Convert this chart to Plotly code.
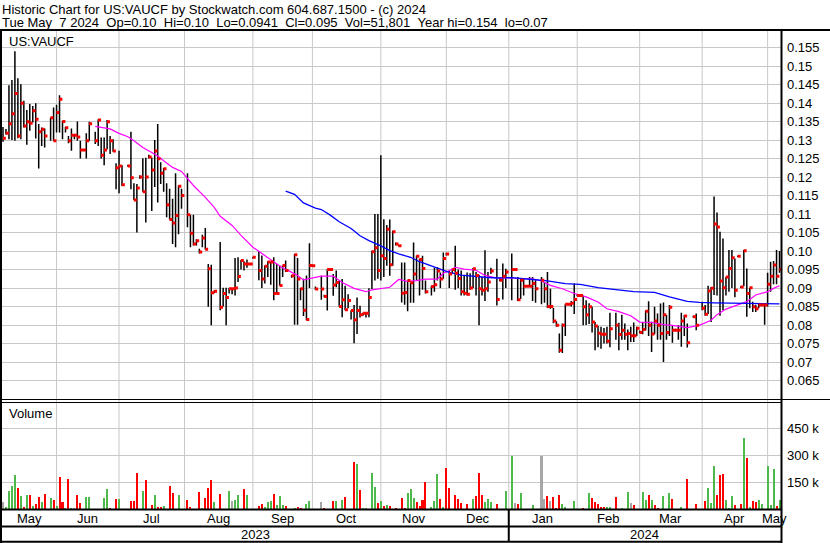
import pandas as pd
import plotly.graph_objects as go

FONT = "Arial, 'Liberation Sans', sans-serif"

# ---------------- data ----------------
# one slot per weekday (holidays / no-trade days are None)
dates = pd.bdate_range("2023-05-08", "2024-05-07")

high = [
    0.1335, 0.133, 0.1448, 0.1462, 0.154, 0.1467, 0.1451, 0.1406, 0.1381, 0.1397,
    0.1392, 0.1399, 0.1343, 0.1334, 0.1331, None, 0.1361, 0.1388, 0.1395, 0.1421,
    0.1352, 0.1336, 0.1311, 0.1331, 0.1316, 0.135, 0.1298, 0.1275, 0.1318, 0.1349,
    None, 0.1322, 0.1356, 0.1307, 0.1307, 0.1354, 0.1311, 0.1302, 0.1237, 0.1271,
    0.1232, None, 0.1233, 0.1322, 0.1183, 0.1181, 0.1205, 0.1251, 0.1252, 0.126,
    0.1253, 0.13, 0.1343, 0.124, 0.1224, 0.1183, 0.1168, 0.1141, 0.121, 0.1177,
    0.1168, None, 0.121, 0.1098, 0.1098, 0.1032, 0.1006, 0.1044, 0.1062, 0.0965,
    0.0963, 0.0893, None, 0.1024, 0.0901, 0.0901, 0.09, 0.09, 0.0981, 0.0983,
    0.0976, 0.0972, 0.0977, 0.0967, 0.0984, None, 0.0999, 0.0988, 0.0961, 0.0972,
    0.097, 0.0983, 0.0965, 0.0961, 0.0961, 0.0974, None, 0.0935, 0.0992, 0.0981,
    0.09, 0.0925, 0.0934, 0.1021, 0.0963, 0.0904, None, 0.0933, 0.0882, 0.0951,
    0.0952, 0.0938, 0.0947, 0.092, 0.0924, 0.0906, 0.0883, 0.0839, 0.0854, 0.0874,
    0.0852, 0.0833, 0.0834, 0.0899, 0.1001, 0.11, 0.11, 0.1259, 0.1086, 0.107,
    0.1085, 0.1055, 0.1023, 0.1016, 0.0969, 0.0969, 0.092, 0.0915, 0.1023, 0.0988,
    0.0979, 0.0987, 0.092, None, 0.0906, 0.0955, 0.0956, 0.0942, 0.0996, 0.0995,
    0.0947, 0.0952, 0.1014, 0.095, 0.0947, 0.0933, 0.0942, 0.094, 0.0954, 0.0943,
    0.0936, 0.093, 0.1002, 0.0943, 0.0955, None, 0.0979, 0.0925, 0.0966, 0.0952,
    None, 0.0993, 0.0952, 0.093, 0.0925, 0.0927, 0.0907, 0.093, 0.093, 0.0921,
    None, 0.093, 0.0916, 0.0943, 0.0898, 0.0846, 0.081, 0.0777, 0.0804, 0.0856,
    0.0858, 0.0865, 0.0912, 0.0883, 0.0883, 0.088, 0.0867, 0.0859, 0.0849, 0.0808,
    0.0797, 0.0795, 0.0792, 0.0795, 0.0833, None, 0.0833, 0.0806, 0.0828, 0.0804,
    0.0788, 0.0795, 0.0807, 0.0795, 0.0785, 0.0808, 0.0839, 0.0864, 0.0809, 0.0849,
    0.0831, 0.0858, 0.0861, 0.0827, 0.0854, 0.0799, 0.079, 0.0799, 0.0833, 0.0827,
    0.0804, None, 0.0825, 0.0831, None, 0.0863, 0.0854, 0.0906, 0.0903, 0.1147,
    0.1104, 0.1052, 0.1034, 0.093, 0.1003, 0.1003, 0.098, 0.0988, 0.0905, 0.1003,
    0.0953, 0.0901, 0.0863, 0.0855, 0.0858, 0.0856, 0.0856, 0.0941, 0.0971, 0.0973,
    0.1003, 0.100,
]

low = [
    0.1295, 0.1315, 0.1302, 0.13, 0.1298, 0.1305, 0.1302, 0.1334, 0.1287, 0.1325,
    0.1347, 0.1304, 0.1223, 0.1284, 0.128, None, 0.1298, 0.1298, 0.132, 0.132,
    0.1302, 0.132, 0.1291, 0.1271, 0.1302, 0.1298, 0.125, 0.127, 0.125, 0.1298,
    None, 0.1289, 0.1284, 0.125, 0.1232, 0.1275, 0.1262, 0.1268, 0.1167, 0.1156,
    0.1176, None, 0.1228, 0.1167, 0.1138, 0.105, 0.1195, 0.116, 0.1077, 0.125,
    0.1108, 0.1173, 0.1131, 0.1181, 0.116, 0.1091, 0.1085, 0.1019, 0.101, 0.1045,
    0.1114, None, 0.1064, 0.101, 0.1015, 0.1015, 0.0993, 0.101, 0.1004, 0.0849,
    0.0799, 0.0886, None, 0.084, 0.085, 0.0799, 0.0885, 0.0883, 0.088, 0.0916,
    0.095, 0.0947, 0.0955, 0.0963, 0.098, None, 0.0921, 0.09, 0.0912, 0.093,
    0.0909, 0.0867, 0.0885, 0.0907, 0.093, 0.0943, None, 0.0928, 0.0801, 0.0801,
    0.0867, 0.0824, 0.0813, 0.09, 0.0958, 0.0895, None, 0.0868, 0.0875, 0.0839,
    0.0948, 0.0879, 0.0902, 0.085, 0.0821, 0.084, 0.0845, 0.0815, 0.0751, 0.0776,
    0.082, 0.0825, 0.082, 0.0821, 0.0897, 0.092, 0.0925, 0.092, 0.093, 0.096,
    0.0933, 0.096, 0.1015, 0.1012, 0.0861, 0.0855, 0.0837, 0.086, 0.086, 0.092,
    0.088, 0.0895, 0.0885, None, 0.088, 0.089, 0.092, 0.09, 0.0925, 0.0988,
    0.09, 0.094, 0.0895, 0.09, 0.088, 0.088, 0.088, 0.0895, 0.09, 0.088,
    0.0799, 0.088, 0.0865, 0.089, 0.0938, None, 0.0853, 0.0918, 0.0869, 0.09,
    None, 0.0867, 0.0948, 0.0865, 0.087, 0.088, 0.0903, 0.0903, 0.0865, 0.086,
    None, 0.0856, 0.086, 0.0846, 0.0844, 0.0805, 0.0795, 0.0725, 0.0724, 0.077,
    0.0854, 0.085, 0.083, 0.0878, 0.0878, 0.0799, 0.08, 0.0803, 0.078, 0.0732,
    0.074, 0.0736, 0.075, 0.075, 0.074, None, 0.076, 0.0732, 0.076, 0.076,
    0.0732, 0.0754, 0.0754, 0.077, 0.0778, 0.0775, 0.0785, 0.077, 0.0727, 0.0775,
    0.076, 0.076, 0.070, 0.076, 0.077, 0.0752, 0.0783, 0.076, 0.0741, 0.077,
    0.0739, None, 0.082, 0.0786, None, 0.084, 0.0825, 0.083, 0.0808, 0.0881,
    0.088, 0.0825, 0.084, 0.088, 0.089, 0.09, 0.0875, 0.0984, 0.09, 0.0905,
    0.0822, 0.0845, 0.0835, 0.0835, 0.0845, 0.0852, 0.0801, 0.085, 0.089, 0.091,
    0.091, 0.0941,
]

close = [
    0.1305, 0.1318, 0.1344, 0.1371, 0.1426, 0.1311, 0.1399, 0.1338, 0.1349, 0.1345,
    0.1379, 0.1356, 0.1322, 0.1329, 0.1311, None, 0.136, 0.1298, 0.1374, 0.141,
    0.135, 0.1333, 0.1298, 0.1313, 0.1313, 0.1308, 0.1273, 0.1273, 0.1298, 0.1344,
    None, 0.1298, 0.1354, 0.1259, 0.1273, 0.1349, 0.1298, 0.127, 0.1225, 0.123,
    0.1179, None, 0.123, 0.1198, 0.1138, 0.117, 0.120, 0.116, 0.120, 0.1254,
    0.1219, 0.127, 0.1249, 0.121, 0.1222, 0.1125, 0.1085, 0.1076, 0.1096, 0.1175,
    0.115, None, 0.1098, 0.1048, 0.1019, 0.1028, 0.0997, 0.1035, 0.1005, 0.0952,
    0.0887, 0.0891, None, 0.0848, 0.0885, 0.0874, 0.0898, 0.0898, 0.090, 0.0931,
    0.0974, 0.0965, 0.0965, 0.0965, 0.0983, None, 0.0947, 0.0924, 0.0959, 0.097,
    0.097, 0.0885, 0.0885, 0.0907, 0.0961, 0.0947, None, 0.0933, 0.099, 0.0924,
    0.0898, 0.084, 0.0815, 0.0961, 0.096, 0.0897, None, 0.0897, 0.0877, 0.095,
    0.095, 0.0908, 0.0915, 0.085, 0.0868, 0.0841, 0.0866, 0.0839, 0.0814, 0.0839,
    0.0828, 0.0832, 0.0832, 0.0874, 0.0998, 0.1009, 0.0947, 0.0987, 0.098, 0.1059,
    0.0963, 0.1052, 0.1019, 0.1014, 0.0886, 0.0888, 0.092, 0.0914, 0.0938, 0.0986,
    0.0977, 0.0953, 0.089, None, 0.0904, 0.0909, 0.0946, 0.0924, 0.098, 0.0992,
    0.0938, 0.095, 0.094, 0.0926, 0.089, 0.0886, 0.0883, 0.090, 0.0952, 0.0934,
    0.0898, 0.0894, 0.0898, 0.0916, 0.0946, None, 0.0869, 0.0921, 0.0932, 0.0943,
    None, 0.095, 0.095, 0.0868, 0.0921, 0.0905, 0.0905, 0.0905, 0.0912, 0.0898,
    None, 0.0921, 0.0898, 0.085, 0.085, 0.0811, 0.0799, 0.0732, 0.0799, 0.0856,
    0.0856, 0.0859, 0.0869, 0.088, 0.088, 0.0849, 0.0828, 0.0849, 0.0808, 0.0797,
    0.0778, 0.0775, 0.0775, 0.0756, 0.079, None, 0.0799, 0.0774, 0.0786, 0.0775,
    0.0777, 0.0771, 0.0771, 0.0791, 0.078, 0.0788, 0.0837, 0.0799, 0.0776, 0.0811,
    0.0799, 0.0777, 0.0828, 0.078, 0.0848, 0.0786, 0.0786, 0.0786, 0.0811, 0.0824,
    0.0752, None, 0.0822, 0.0799, None, 0.0845, 0.0829, 0.0892, 0.0899, 0.1073,
    0.1065, 0.0919, 0.0901, 0.093, 0.0953, 0.0982, 0.0894, 0.0986, 0.0903, 0.1001,
    0.0885, 0.0901, 0.0849, 0.0844, 0.0854, 0.0854, 0.0854, 0.091, 0.0932, 0.0962,
    0.0932, 0.095,
]

volume = [
    42000, 13000, 106000, 135000, 192000, 119000, 77000, 15000, 83000, 83000,
    21000, 31000, 71000, 44000, 88000, None, 65000, 54000, 19000, 181000,
    44000, 10000, 169000, 8000, 5000, 83000, 37000, 4000, 71000, 69000,
    None, 4000, 3000, 4000, 65000, 117000, 8000, 3000, 60000, 60000,
    4000, None, 3000, 48000, 48000, 204000, 4000, 106000, 163000, 3000,
    25000, 83000, 13000, 13000, 19000, 4000, 135000, 94000, 3000, 83000,
    4000, None, 56000, 13000, 4000, 3000, 100000, 8000, 65000, 119000,
    163000, 42000, None, 88000, 3000, 4000, 106000, 48000, 54000, 83000,
    3000, 117000, 83000, 4000, 3000, None, 19000, 31000, 13000, 42000,
    48000, 88000, 25000, 77000, 25000, 19000, None, 4000, 8000, 13000,
    8000, 4000, 31000, 48000, 4000, 3000, None, 42000, 8000, 3000,
    3000, 48000, 48000, 3000, 54000, 69000, 3000, 4000, 267000, 256000,
    112000, 8000, 8000, 4000, 202000, 129000, 37000, 48000, 19000, 25000,
    19000, 3000, 8000, 4000, 65000, 8000, 94000, 115000, 65000, 42000,
    19000, 54000, 152000, None, 13000, 48000, 198000, 60000, 13000, 233000,
    123000, 3000, 83000, 60000, 37000, 4000, 31000, 3000, 60000, 77000,
    204000, 83000, 42000, 60000, 42000, None, 31000, 4000, 4000, 106000,
    None, 300000, 37000, 31000, 94000, 3000, 4000, 3000, 25000, 3000,
    None, 300000, 60000, 77000, 48000, 71000, 8000, 83000, 31000, 13000,
    3000, 3000, 48000, 3000, 3000, 8000, 3000, 94000, 65000, 42000,
    31000, 13000, 13000, 13000, 13000, None, 71000, 3000, 8000, 4000,
    100000, 37000, 25000, 3000, 4000, 100000, 54000, 83000, 54000, 25000,
    8000, 3000, 77000, 3000, 94000, 60000, 3000, 3000, 13000, 3000,
    169000, None, 3000, 31000, None, 3000, 48000, 123000, 37000, 244000,
    83000, 192000, 198000, 54000, 8000, 77000, 25000, 3000, 31000, 400000,
    290000, 13000, 48000, 42000, 54000, 31000, 3000, 244000, 25000, 227000,
    19000, 51801,
]

# u = close up, d = close down, n = unchanged, - = no trade
vol_dir = list(
    "nuuuududud" "uddud-udud" "dudunddnuu" "-dnduuddd u".replace(" ", "") +
    "d-nddduudu" "duddudddu u".replace(" ", "") + "u-dddddudd" "du-dunu nuu".replace(" ", "") +
    "ududn-dduu" "uduuud-uud" "dduund-ndu" "ndudududdu" "duunuudud u".replace(" ", "") +
    "dudddduuud" "ddd-uuudud" "duddddduud" "dduuu-duuu" "-undudndud" "-nndndddu u".replace(" ", "") +
    "nnundd nudd".replace(" ", "") + "dddu u-ddud".replace(" ", "") + "undu uuudud".replace(" ", "") +
    "duududu duu".replace(" ", "") + "d-ud-uduuu" "dddu uudu du".replace(" ", "") +
    "dudduunuuu" "du"
)

# moving averages (bar number, value)
ma_fast_bar = [31, 34, 36, 39, 42, 44, 47, 50, 52, 54, 57, 60, 64, 68, 71, 73, 77, 80, 84, 86,
               89, 91, 94, 96, 99, 101, 104, 107, 111, 114, 118, 122, 124, 127, 130, 133, 136, 139,
               142, 146, 148, 150, 152, 155, 157, 159, 162, 166, 171, 174, 178, 181, 184, 188,
               192, 196, 200, 203, 207, 209, 211, 214, 218, 222, 225, 230, 234, 238, 240, 243,
               247, 250, 253, 257, 259, 261]
ma_fast_val = [0.1337, 0.1334, 0.1330, 0.1318, 0.1309, 0.1298, 0.1280, 0.1266, 0.1257, 0.1244,
               0.1226, 0.1215, 0.1177, 0.1145, 0.1118, 0.1094, 0.1069, 0.1042, 0.1010, 0.0999,
               0.0983, 0.0972, 0.0954, 0.0947, 0.0934, 0.0922, 0.0928, 0.0932, 0.0932, 0.0915,
               0.0899, 0.0890, 0.0895, 0.0899, 0.0902, 0.0923, 0.0918, 0.0920, 0.0924, 0.0924,
               0.0940, 0.0947, 0.0956, 0.0951, 0.0950, 0.0948, 0.0934, 0.0927, 0.0927, 0.0925,
               0.0925, 0.0919, 0.0907, 0.0898, 0.0885, 0.0876, 0.0862, 0.0844, 0.0836, 0.0831,
               0.0825, 0.0808, 0.0807, 0.0801, 0.0799, 0.0793, 0.0799, 0.0813, 0.0828, 0.0843,
               0.0854, 0.0863, 0.0881, 0.0890, 0.0899, 0.0906]

ma_slow_bar = [95, 98, 101, 105, 107, 110, 113, 117, 120, 123, 127, 130, 133, 137, 140, 143,
               147, 150, 154, 157, 162, 166, 171, 178, 183, 189, 194, 200, 206, 209, 212, 219,
               224, 230, 234, 239, 247, 254, 261]
ma_slow_val = [0.1162, 0.1153, 0.1130, 0.1116, 0.1112, 0.1097, 0.1079, 0.1061, 0.1041, 0.1028,
               0.1014, 0.1001, 0.0992, 0.0983, 0.0971, 0.0962, 0.0951, 0.0942, 0.0935, 0.0932,
               0.0929, 0.0927, 0.0928, 0.0923, 0.0919, 0.0912, 0.0910, 0.0901, 0.0896, 0.0894,
               0.0890, 0.0888, 0.0876, 0.0864, 0.0861, 0.0860, 0.0859, 0.0858, 0.0857]

price_ticks = [0.065, 0.07, 0.075, 0.08, 0.085, 0.09, 0.095, 0.10, 0.105, 0.11,
               0.115, 0.12, 0.125, 0.13, 0.135, 0.14, 0.145, 0.15, 0.155]
price_ticktext = ["0.065", "0.07", "0.075", "0.08", "0.085", "0.09", "0.095", "0.10", "0.105",
                  "0.11", "0.115", "0.12", "0.125", "0.13", "0.135", "0.14", "0.145", "0.15", "0.155"]
vol_ticks = [150000, 300000, 450000]
vol_ticktext = ["150 k", "300 k", "450 k"]
month_names = ["May", "Jun", "Jul", "Aug", "Sep", "Oct", "Nov", "Dec",
               "Jan", "Feb", "Mar", "Apr", "May"]
year_names = ["2023", "2024"]

title_line1 = "Historic Chart for US:VAUCF by Stockwatch.com 604.687.1500 - (c) 2024"
title_line2 = ("Tue May\u00a0\u00a07 2024\u00a0\u00a0Op=0.10\u00a0\u00a0Hi=0.10\u00a0\u00a0Lo=0.0941"
               "\u00a0\u00a0Cl=0.095\u00a0\u00a0Vol=51,801\u00a0\u00a0Year hi=0.154\u00a0\u00a0lo=0.07")
symbol_label = "US:VAUCF"
volume_label = "Volume"

# ---------------- figure ----------------
XL, XR = -0.336, 261.5
W, H = 830, 543
ML, MR, MT, MB = 2, 49, 30, 33
PW, PH = W - ML - MR, H - MT - MB


def X(px):
    return (px - ML) / PW


def Y(py):
    return (H - MB - py) / PH


# month gridline positions (slot of the 1st, or the Friday before it)
month_starts = pd.date_range("2023-06-01", "2024-05-01", freq="MS")
grid_idx = [int((dates <= d).sum()) - 1 for d in month_starts]
bounds = [XL] + grid_idx + [XR]
label_x = [(a + b) / 2 for a, b in zip(bounds[:-1], bounds[1:])]
jan_idx = grid_idx[7]

fig = go.Figure()

colors = {"u": "#4fb84a", "d": "#ff0000", "n": "#a6a6a6", "-": "#a6a6a6"}
vx, vy, vc = [], [], []
for i, v in enumerate(volume):
    if v is None:
        continue
    vx.append(i)
    vy.append(v)
    vc.append(colors[vol_dir[i]] if i < len(vol_dir) else "#a6a6a6")
fig.add_trace(go.Bar(x=vx, y=vy, marker=dict(color=vc, line=dict(width=0)), width=0.68,
                     xaxis="x2", yaxis="y2", hoverinfo="skip"))

bx, by = [], []
for i in range(min(len(high), len(low))):
    if high[i] is None or low[i] is None:
        continue
    bx += [i, i, None]
    by += [low[i], high[i], None]
fig.add_trace(go.Scatter(x=bx, y=by, mode="lines", line=dict(color="black", width=1.5),
                         hoverinfo="skip"))

fig.add_trace(go.Scatter(x=ma_fast_bar, y=ma_fast_val, mode="lines",
                         line=dict(color="#ff00ff", width=1.2), hoverinfo="skip"))
fig.add_trace(go.Scatter(x=ma_slow_bar, y=ma_slow_val, mode="lines",
                         line=dict(color="#0000ff", width=1.3), hoverinfo="skip"))

cx = [i + 0.45 for i, c in enumerate(close) if c is not None]
cy = [c for c in close if c is not None]
fig.add_trace(go.Scatter(x=cx, y=cy, mode="markers",
                         marker=dict(symbol="square", size=3, color="#ff0000", line=dict(width=0)),
                         hoverinfo="skip"))

shapes = []
for g in grid_idx:
    shapes.append(dict(type="line", xref="x", yref="paper", x0=g, x1=g, y0=0, y1=1,
                       line=dict(color="#c8c8c8", width=1), layer="below"))


def hline(py, x0, x1, w):
    shapes.append(dict(type="line", xref="paper", yref="paper", x0=X(x0), x1=X(x1),
                       y0=Y(py), y1=Y(py), line=dict(color="black", width=w)))


def vline(px, y0, y1, w):
    shapes.append(dict(type="line", xref="paper", yref="paper", x0=X(px), x1=X(px),
                       y0=Y(y0), y1=Y(y1), line=dict(color="black", width=w)))


hline(30, 0, 830, 2)
hline(399.5, 0, 830, 1)
hline(402.5, 0, 781.5, 1)
hline(509.5, 0, 781.5, 2)
hline(526.5, 0, 781.5, 2)
hline(541.8, 0, 781.5, 2)
vline(1, 30, 543, 2)
vline(781.5, 30, 543, 2)
shapes.append(dict(type="line", xref="x", yref="paper", x0=jan_idx, x1=jan_idx,
                   y0=Y(509.5), y1=Y(541.8), line=dict(color="black", width=2)))

ann = []


def text(s, px, py, anchor="left", size=13):
    ann.append(dict(text=s, xref="paper", yref="paper", x=X(px), y=Y(py), xanchor=anchor,
                    yanchor="middle", showarrow=False,
                    font=dict(family=FONT, size=size, color="black")))


text(title_line1, 0, 9)
text(title_line2, 0, 23)
text(symbol_label, 7, 41)
text(volume_label, 7, 413)
for name, lx in zip(month_names, label_x):
    ann.append(dict(text=name, xref="x", yref="paper", x=lx, y=Y(518), xanchor="center",
                    yanchor="middle", showarrow=False,
                    font=dict(family=FONT, size=13, color="black")))
for name, lx in zip(year_names, [(XL + jan_idx) / 2, (jan_idx + XR) / 2]):
    ann.append(dict(text=name, xref="x", yref="paper", x=lx, y=Y(534.5), xanchor="center",
                    yanchor="middle", showarrow=False,
                    font=dict(family=FONT, size=13, color="black")))

axis_common = dict(range=[XL, XR], showticklabels=False, showgrid=False, zeroline=False,
                   showline=False, ticks="", fixedrange=True)

fig.update_layout(
    width=W, height=H, margin=dict(l=ML, r=MR, t=MT, b=MB),
    paper_bgcolor="white", plot_bgcolor="white", showlegend=False,
    xaxis=dict(domain=[0, 1], anchor="y", **axis_common),
    xaxis2=dict(domain=[0, 1], anchor="y2", **axis_common),
    yaxis=dict(domain=[Y(399.5), 1], range=[0.15973 - (399.5 - 30) / 3700, 0.15973],
               side="right", tickmode="array", tickvals=price_ticks, ticktext=price_ticktext,
               showgrid=True, gridcolor="#c8c8c8", gridwidth=1, zeroline=False, ticks="",
               ticklabelstandoff=5, tickfont=dict(family=FONT, size=13, color="black"),
               fixedrange=True),
    yaxis2=dict(domain=[0, Y(402.5)], range=[-3900, 596100 - 0.5 * 5556],
                side="right", tickmode="array", tickvals=vol_ticks, ticktext=vol_ticktext,
                showgrid=True, gridcolor="#c8c8c8", gridwidth=1, zeroline=False, ticks="",
                ticklabelstandoff=5, tickfont=dict(family=FONT, size=13, color="black"),
                fixedrange=True),
    shapes=shapes, annotations=ann, bargap=0,
)

fig.write_html(
    "out.html",
    config={"displayModeBar": False},
    post_script="document.body.style.margin='0';document.body.style.overflow='hidden';",
)
